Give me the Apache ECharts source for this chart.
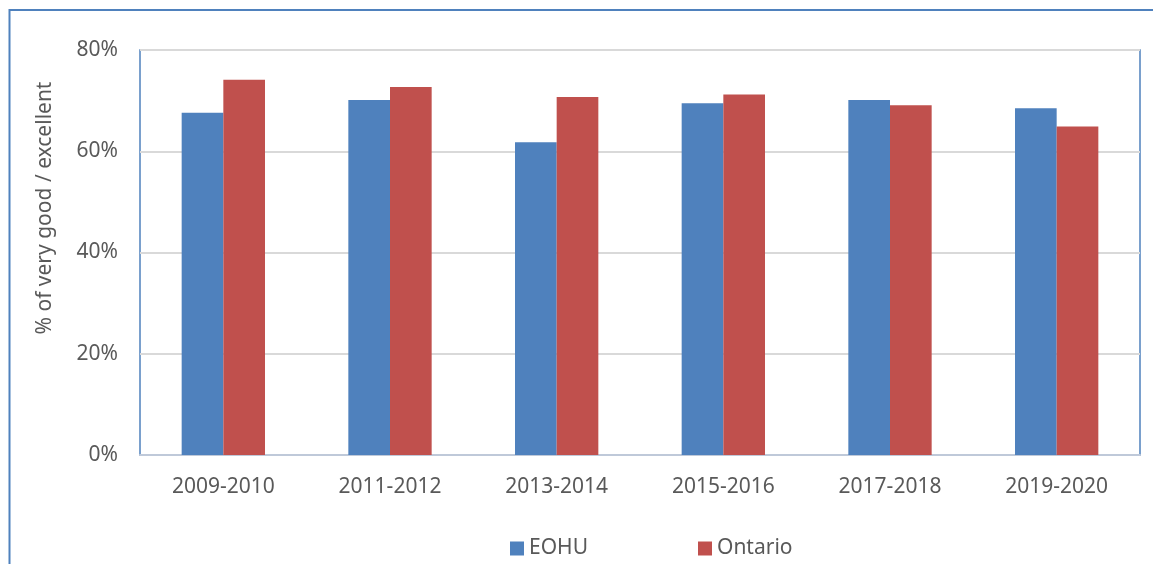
<!DOCTYPE html>
<html>
<head>
<meta charset="utf-8">
<script src="https://cdn.jsdelivr.net/npm/echarts@6/dist/echarts.min.js"></script>
<style>
  html, body { margin: 0; padding: 0; background: #fff; }
  #chart { width: 1153px; height: 564px; }
</style>
</head>
<body>
<div id="chart"></div>
<script>
// survey periods
var periods = ['2009-2010', '2011-2012', '2013-2014', '2015-2016', '2017-2018', '2019-2020']
// % rating very good / excellent
var eohu = [67.6, 70.1, 61.8, 69.5, 70.1, 68.5]
var ontario = [74.1, 72.7, 70.7, 71.2, 69.1, 64.9]

var textColor = '#595959'
var font = 'Noto Sans'

var chart = echarts.init(document.getElementById('chart'))
chart.setOption({
  animation: false,
  textStyle: { fontFamily: font },
  grid: {
    left: 140,
    right: 13,
    top: 50,
    bottom: 109,
    show: true,
    borderColor: '#4F81BD',
    borderWidth: 1.5
  },
  graphic: [
    {
      type: 'rect',
      shape: { x: 9.5, y: 10, width: 1160, height: 600 },
      style: { fill: 'none', stroke: '#4F81BD', lineWidth: 2 },
      silent: true
    },
    {
      type: 'text',
      x: 45,
      y: 208,
      rotation: Math.PI / 2,
      style: {
        text: '% of very good / excellent',
        fill: textColor,
        font: '21px "Noto Sans"',
        align: 'center',
        verticalAlign: 'middle'
      }
    }
  ],
  legend: {
    top: 533,
    left: 505,
    itemWidth: 14,
    itemHeight: 14,
    itemGap: 110,
    icon: 'rect',
    textStyle: { color: textColor, fontSize: 21, fontFamily: font },
    data: ['EOHU', 'Ontario']
  },
  xAxis: {
    type: 'category',
    data: periods,
    axisTick: { show: false },
    axisLine: { lineStyle: { color: '#BFC9D9', width: 2 } },
    axisLabel: { color: textColor, fontSize: 21, margin: 22 }
  },
  yAxis: {
    type: 'value',
    min: 0,
    max: 80,
    interval: 20,
    axisLabel: { color: textColor, fontSize: 21, margin: 22, formatter: '{value}%' },
    splitLine: { lineStyle: { color: '#D9D9D9', width: 2 } },
    axisLine: { show: false },
    axisTick: { show: false }
  },
  series: [
    {
      name: 'EOHU',
      type: 'bar',
      data: eohu,
      barWidth: '25%',
      barGap: '0%',
      itemStyle: { color: '#4F81BD' }
    },
    {
      name: 'Ontario',
      type: 'bar',
      data: ontario,
      barWidth: '25%',
      itemStyle: { color: '#C0504D' }
    }
  ]
})
</script>
</body>
</html>
